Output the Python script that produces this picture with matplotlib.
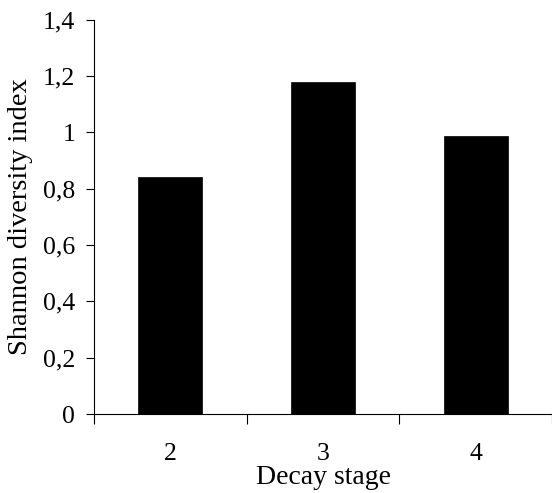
import matplotlib
matplotlib.use("Agg")
import matplotlib.pyplot as plt
from matplotlib.ticker import FuncFormatter

# Shannon-Index je Zersetzungsstadium
stages = ["2", "3", "4"]
shannon = [0.84, 1.178, 0.988]

plt.rcParams["font.family"] = ["Liberation Serif", "DejaVu Serif"]

fig = plt.figure(figsize=(5.52, 4.93), dpi=100)
ax = fig.add_axes([0.1703, 0.1602, 0.8297, 0.8])

x = range(len(stages))
ax.bar(list(x), shannon, width=0.42, color="black", edgecolor="black", linewidth=0.5)

ax.set_xlim(-0.5, len(stages) - 0.5)
ax.set_ylim(0, 1.4)
ax.set_yticks([0, 0.2, 0.4, 0.6, 0.8, 1.0, 1.2, 1.4])
ax.yaxis.set_major_formatter(FuncFormatter(lambda v, p: f"{v:g}".replace(".", ",")))

ax.set_xticks(list(x))
ax.set_xticklabels(stages)
ax.set_xticks([i - 0.5 for i in range(len(stages) + 1)], minor=True)
ax.tick_params(axis="x", which="major", length=0, pad=21, labelsize=18.5)
ax.tick_params(axis="x", which="minor", length=7, width=0.8, direction="out")
ax.tick_params(axis="y", length=6, width=0.8, direction="out", pad=7.5, labelsize=18.5)

for side in ["top", "right"]:
    ax.spines[side].set_visible(False)
for side in ["left", "bottom"]:
    ax.spines[side].set_linewidth(0.8)

ax.set_xlabel("Decay stage", fontsize=20, labelpad=0)
ax.set_ylabel("Shannon diversity index", fontsize=20.5, labelpad=7)

fig.savefig("out.png", dpi=100, facecolor="white")
